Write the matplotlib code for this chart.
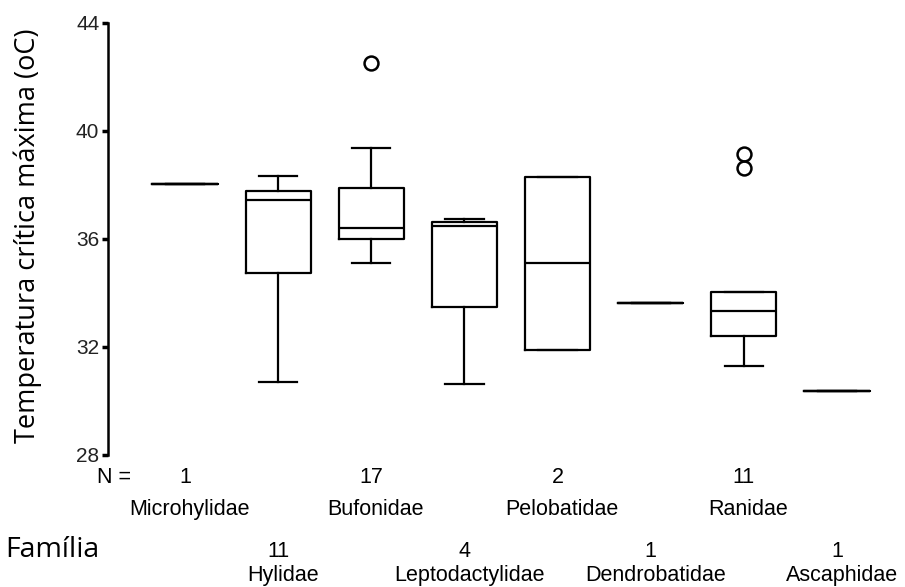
"""
Box plot of critical thermal maximum per anuran family.
"""
import matplotlib
matplotlib.use("Agg")
import matplotlib.pyplot as plt
import numpy as np

FAMILIES = ["Microhylidae", "Hylidae", "Bufonidae", "Leptodactylidae",
            "Pelobatidae", "Dendrobatidae", "Ranidae", "Ascaphidae"]
N_OBS = [1, 11, 17, 4, 2, 1, 11, 1]

# quartiles / whiskers (oC)
MEDIAN = [38.05, 37.43, 36.42, 36.48, 35.11, 33.64, 33.33, 30.36]
Q1 = [38.05, 34.72, 35.98, 33.46, 31.90, 33.64, 32.39, 30.36]
Q3 = [38.05, 37.78, 37.90, 36.63, 38.31, 33.64, 34.03, 30.36]
WHIS_LO = [38.05, 30.70, 35.11, 30.64, 31.90, 33.64, 31.30, 30.36]
WHIS_HI = [38.05, 38.33, 39.35, 36.72, 38.31, 33.64, 34.03, 30.36]
OUTLIERS = [[], [], [42.53], [], [], [], [39.16, 38.64], []]

TEXT_FONT = ["Liberation Sans", "DejaVu Sans"]
LABEL_FONT = ["Open Sans", "DejaVu Sans"]
FS = 15.5


def main():
    fig = plt.figure(figsize=(9.05, 5.87), dpi=100)
    ax = fig.add_axes([0.119, 0.225, 0.881, 0.736])

    stats = []
    for i, fam in enumerate(FAMILIES):
        stats.append({
            "label": fam,
            "med": MEDIAN[i], "q1": Q1[i], "q3": Q3[i],
            "whislo": WHIS_LO[i], "whishi": WHIS_HI[i],
            "fliers": np.array(OUTLIERS[i]),
        })

    pos = np.arange(1, len(FAMILIES) + 1)
    line = dict(color="black", lw=1.6)
    ax.bxp(stats, positions=pos, widths=0.7, capwidths=0.41,
           boxprops=line, medianprops=line, whiskerprops=line,
           capprops=line,
           flierprops=dict(marker="o", markerfacecolor="none",
                           markeredgecolor="black", markersize=10,
                           markeredgewidth=1.8))

    ax.set_xlim(0.17, 8.73)
    ax.set_ylim(28, 44)
    ax.set_yticks([28, 32, 36, 40, 44])
    ax.set_yticklabels(["28", "32", "36", "40", "44"], family=TEXT_FONT,
                       fontsize=15, color="#222222")
    ax.set_xticks([])
    for s in ["top", "right", "bottom"]:
        ax.spines[s].set_visible(False)
    ax.spines["left"].set_linewidth(1.8)
    ax.tick_params(axis="y", direction="out", length=4, width=2.5, pad=2)

    fig.text(0.031, 1 - 236 / 587, "Temperatura crítica máxima (oC)",
             family=LABEL_FONT, fontsize=19.5, rotation=90,
             ha="center", va="center")

    tr = ax.get_xaxis_transform()
    ax.text(0.05, -0.053, "N =", transform=tr, ha="left", va="center",
            family=TEXT_FONT, fontsize=FS)
    for i, fam in enumerate(FAMILIES):
        if i % 2 == 0:
            y_n, y_name = -0.053, -0.127
        else:
            y_n, y_name = -0.224, -0.280
        ax.text(pos[i], y_n, str(N_OBS[i]), transform=tr, ha="center",
                va="center", family=TEXT_FONT, fontsize=FS)
        ax.text(pos[i] + 0.05, y_name, fam, transform=tr, ha="center",
                va="center", family=TEXT_FONT, fontsize=FS)

    fig.text(0.006, 0.063, "Família", family=LABEL_FONT, fontsize=20.5,
             ha="left", va="center")

    fig.savefig("out.png", dpi=100, facecolor="white")
    plt.close(fig)


if __name__ == "__main__":
    main()
